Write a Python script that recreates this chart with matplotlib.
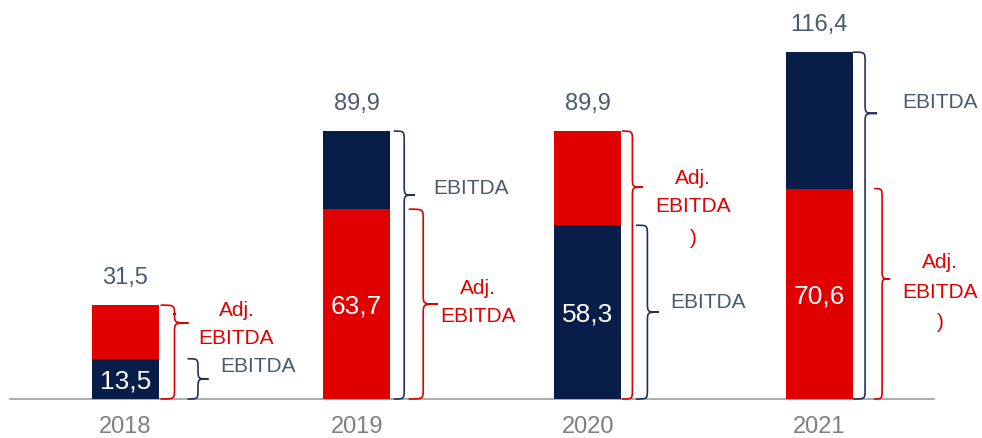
import matplotlib
matplotlib.use("Agg")
import matplotlib.pyplot as plt
from matplotlib.path import Path
from matplotlib.patches import PathPatch

plt.rcParams['font.family'] = ['Liberation Sans', 'DejaVu Sans']

# ---------------- data ----------------
years = ["2018", "2019", "2020", "2021"]
bottom_vals = [13.5, 63.7, 58.3, 70.6]
totals = [31.5, 89.9, 89.9, 116.4]
bottom_kind = ["EBITDA", "Adj. EBITDA", "EBITDA", "Adj. EBITDA"]
bottom_labels = ["13,5", "63,7", "58,3", "70,6"]
total_labels = ["31,5", "89,9", "89,9", "116,4"]

RED = "#E00000"
NAVY = "#081E48"
BRACE_NAVY = "#1F3260"
TXT = "#4B5A6E"
YEAR = "#7F7F7F"

W, H = 982, 438
fig = plt.figure(figsize=(W / 100, H / 100), dpi=100)
ax = fig.add_axes([0, 0, 1, 1])
ax.axis("off")

# pixel mapping
cx0, dcx = 125.5, 231.2       # bar-centre pixel & spacing
base_px = 399                 # baseline from top
ppu = 2.98                    # pixels per value unit
ax.set_xlim(-cx0 / dcx, (W - cx0) / dcx)
ax.set_ylim(-(H - base_px) / ppu, base_px / ppu)

def px_x(p):  # pixel length -> data x
    return p / dcx

def px_y(p):  # pixel length -> data y
    return p / ppu

bw = 67 / dcx
xs = list(range(len(years)))
top_vals = [t - b for t, b in zip(totals, bottom_vals)]
col_bottom = [NAVY if k == "EBITDA" else RED for k in bottom_kind]
col_top = [RED if k == "EBITDA" else NAVY for k in bottom_kind]

ax.bar(xs, bottom_vals, width=bw, color=col_bottom, zorder=2)
ax.bar(xs, top_vals, width=bw, bottom=bottom_vals, color=col_top, zorder=2)

# baseline
ax.plot([-cx0 / dcx + px_x(10), px_x(934 - cx0)], [0, 0], color="#A6A6A6", lw=1.3, zorder=1)

# value labels
for x, t, tl, b, bl in zip(xs, totals, total_labels, bottom_vals, bottom_labels):
    ax.annotate(tl, (x, t), xytext=(0, 27), textcoords="offset pixels",
                ha="center", va="center", fontsize=17, color=TXT)
    ax.text(x, b / 2, bl, ha="center", va="center_baseline", fontsize=19, color="white", zorder=3)
    ax.text(x, -px_y(28), years[x], ha="center", va="center", fontsize=17, color=YEAR)


def brace(xl, w, y0, y1, yt, color, r_px=10):
    xv = xl + w / 2
    xt = xl + w
    r = min(px_y(r_px), (y1 - y0) / 4)
    verts = [(xl, y1), (xv, y1), (xv, y1), (xv, y1 - r),
             (xv, yt + r),
             (xv, yt), (xv, yt), (xt, yt),
             (xv, yt), (xv, yt), (xv, yt - r),
             (xv, y0 + r),
             (xv, y0), (xv, y0), (xl, y0)]
    codes = [Path.MOVETO, Path.CURVE4, Path.CURVE4, Path.CURVE4,
             Path.LINETO,
             Path.CURVE4, Path.CURVE4, Path.CURVE4,
             Path.CURVE4, Path.CURVE4, Path.CURVE4,
             Path.LINETO,
             Path.CURVE4, Path.CURVE4, Path.CURVE4]
    ax.add_patch(PathPatch(Path(verts, codes), fill=False, edgecolor=color, lw=1.2, zorder=3))


# brace styling per year: (start offset px from bar centre, width px, tip offset px)
red_brace = [(35, 28, -9), (52, 29, 0), (34, 21, 9), (55, 16, -15)]
navy_brace = [(62, 21, 0), (37, 21, 25), (48, 23, 0), (34, 24, -7)]

for i, x in enumerate(xs):
    b, t = bottom_vals[i], totals[i]
    if bottom_kind[i] == "EBITDA":
        navy_span, red_span = (0, b), (0, t)
        navy_mid, red_mid = b / 2, (b + t) / 2
    else:
        red_span, navy_span = (0, b), (0, t)
        red_mid, navy_mid = b / 2, (b + t) / 2
    so, w, to = red_brace[i]
    brace(x + px_x(so), px_x(w), red_span[0], red_span[1], red_mid - px_y(to), RED)
    so, w, to = navy_brace[i]
    brace(x + px_x(so), px_x(w), navy_span[0], navy_span[1], navy_mid - px_y(to), BRACE_NAVY)

# annotation labels: (x offset px, y in px-from-top)
red_text = [
    (111, [("Adj.", 310), ("EBITDA", 339)]),
    (121, [("Adj.", 288), ("EBITDA", 317)]),
    (105, [("Adj.", 179), ("EBITDA", 207), (")", 238)]),
    (121, [("Adj.", 263), ("EBITDA", 293), (")", 322)]),
]
navy_text = [(132, 367), (114, 188), (120, 302), (121, 102)]

for i, x in enumerate(xs):
    dx, lines = red_text[i]
    for s, ypx in lines:
        ax.text(x + px_x(dx), px_y(base_px - ypx), s, ha="center", va="center",
                fontsize=15, color=RED)
    dx, ypx = navy_text[i]
    ax.text(x + px_x(dx), px_y(base_px - ypx), "EBITDA", ha="center", va="center",
            fontsize=15, color=TXT)

fig.savefig("out.png", dpi=100)
